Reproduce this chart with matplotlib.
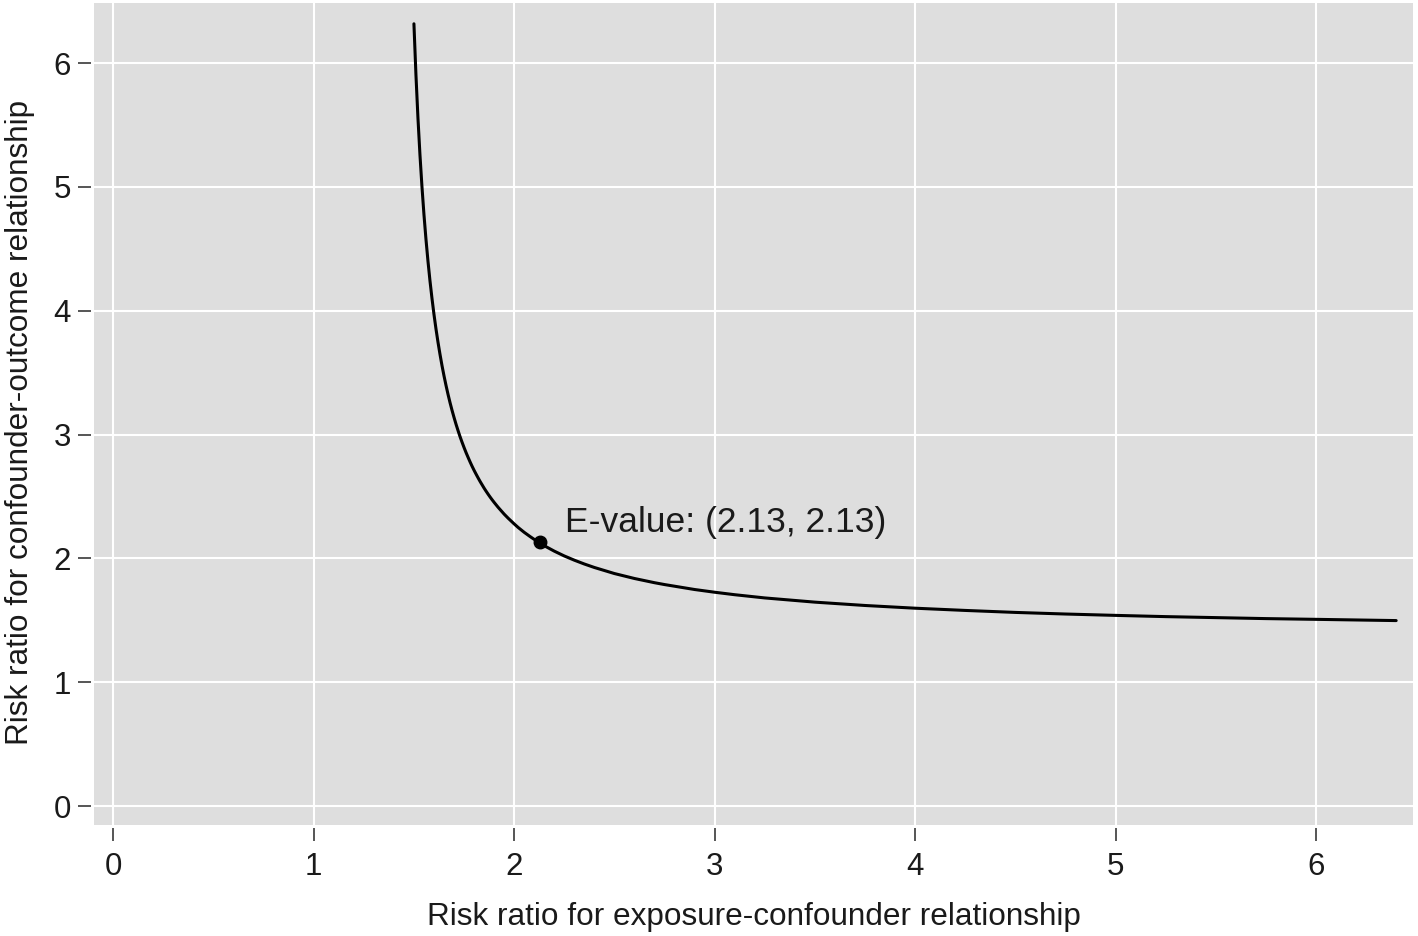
import matplotlib
matplotlib.use("Agg")
import matplotlib.pyplot as plt

# Curve values
rr_exposure = [1.50, 1.51, 1.52, 1.53, 1.54, 1.55, 1.56, 1.57, 1.58, 1.59, 1.60, 1.61, 1.62,
               1.63, 1.64, 1.65, 1.66, 1.67, 1.68, 1.69, 1.70, 1.71, 1.72, 1.73, 1.74, 1.75,
               1.76, 1.77, 1.78, 1.79, 1.80, 1.81, 1.82, 1.83, 1.84, 1.85, 1.86, 1.87, 1.88,
               1.89, 1.90, 1.92, 1.95, 1.97, 2.00, 2.02, 2.05, 2.08, 2.10, 2.13, 2.16, 2.20,
               2.25, 2.30, 2.35, 2.40, 2.50, 2.60, 2.70, 2.75, 2.90, 3.00, 3.10, 3.25, 3.50,
               3.75, 4.00, 4.25, 4.50, 4.75, 5.00, 5.25, 5.50, 5.75, 6.00, 6.20, 6.40]
rr_outcome = [6.318, 5.908, 5.560, 5.262, 5.004, 4.778, 4.579, 4.402, 4.243, 4.101, 3.971, 3.854, 3.747,
              3.649, 3.558, 3.475, 3.398, 3.326, 3.259, 3.197, 3.139, 3.084, 3.033, 2.984, 2.939, 2.896,
              2.855, 2.817, 2.780, 2.745, 2.712, 2.681, 2.651, 2.622, 2.595, 2.568, 2.543, 2.519, 2.496,
              2.474, 2.453, 2.413, 2.358, 2.325, 2.279, 2.250, 2.211, 2.176, 2.154, 2.126, 2.094, 2.059,
              2.020, 1.986, 1.955, 1.927, 1.878, 1.838, 1.804, 1.789, 1.749, 1.727, 1.707, 1.681, 1.647,
              1.620, 1.598, 1.580, 1.564, 1.551, 1.540, 1.530, 1.522, 1.514, 1.508, 1.503, 1.498]
evalue_point = (2.13, 2.13)
evalue_label = "E-value: (2.13, 2.13)"
x_ticks = [0, 1, 2, 3, 4, 5, 6]
y_ticks = [0, 1, 2, 3, 4, 5, 6]
x_label = "Risk ratio for exposure-confounder relationship"
y_label = "Risk ratio for confounder-outcome relationship"

plt.rcParams['font.family'] = ['Liberation Sans', 'DejaVu Sans']

fig = plt.figure(figsize=(14.18, 9.36), dpi=100)
ax = fig.add_axes([94/1418, 111/936, (1413-94)/1418, (825-3)/936])
ax.set_facecolor('#DEDEDE')

ax.set_xlim(-0.096, 6.484)
ax.set_ylim(-0.153, 6.486)
ax.set_xticks(x_ticks)
ax.set_yticks(y_ticks)
ax.set_xticklabels([str(t) for t in x_ticks])
ax.set_yticklabels([str(t) for t in y_ticks])
ax.grid(True, color='white', linewidth=1.5)
ax.set_axisbelow(True)

for s in ax.spines.values():
    s.set_visible(False)
ax.spines['left'].set_position(('outward', 2.2))
ax.spines['bottom'].set_position(('outward', 2.2))

ax.tick_params(axis='both', direction='out', length=9.4, width=1.4, color='#555555',
               labelsize=22.5, labelcolor='#1a1a1a')
ax.tick_params(axis='x', pad=8)
ax.tick_params(axis='y', pad=5)

ax.plot(rr_exposure, rr_outcome, color='black', linewidth=2.2, solid_capstyle='round',
        solid_joinstyle='round')
ax.plot([evalue_point[0]], [evalue_point[1]], 'o', color='black', markersize=9)
ax.text(2.253, 2.29, evalue_label, fontsize=25.5, ha='left', va='center', color='#1a1a1a')

ax.set_xlabel(x_label, fontsize=22.7, labelpad=14, color='#1a1a1a')
ax.set_ylabel(y_label, fontsize=22.7, color='#1a1a1a')
ax.yaxis.set_label_coords(-0.045, 0.49)

fig.savefig("out.png", dpi=100)
